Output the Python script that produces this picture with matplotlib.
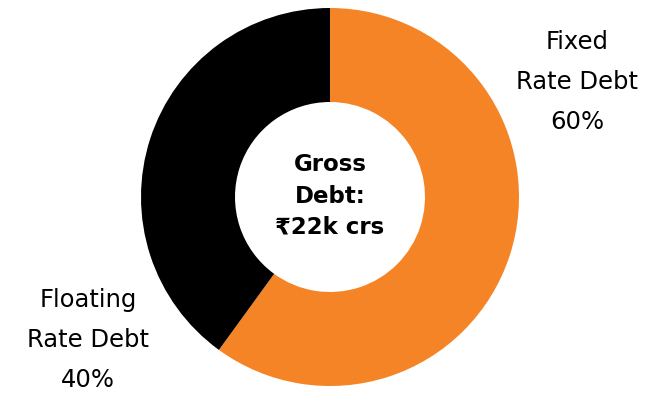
import matplotlib.pyplot as plt

# debt split
labels = ["Fixed\nRate Debt\n60%", "Floating\nRate Debt\n40%"]
shares = [60, 40]
colors = ["#F58426", "#000000"]
centre_text = "Gross\nDebt:\n₹22k crs"

plt.rcParams['font.family'] = ['DejaVu Sans']

fig = plt.figure(figsize=(6.46, 3.94), dpi=100)
ax = fig.add_axes([0, 0, 1, 1])

ax.pie(shares, colors=colors, startangle=90, counterclock=False,
       center=(330, 197), radius=189,
       wedgeprops=dict(width=94, linewidth=0))

# pie resets the limits, so set pixel-like coordinates afterwards
ax.set_xlim(0, 646)
ax.set_ylim(0, 394)
ax.set_aspect('equal')
ax.axis('off')

ax.text(330, 198, centre_text, ha='center', va='center', fontsize=16.5,
        fontweight='bold', linespacing=1.45)

ax.text(577, 312, labels[0], ha='center', va='center', fontsize=17.5,
        linespacing=1.85)
ax.text(88, 54, labels[1], ha='center', va='center', fontsize=17.5,
        linespacing=1.82)

fig.savefig("out.png", dpi=100)
